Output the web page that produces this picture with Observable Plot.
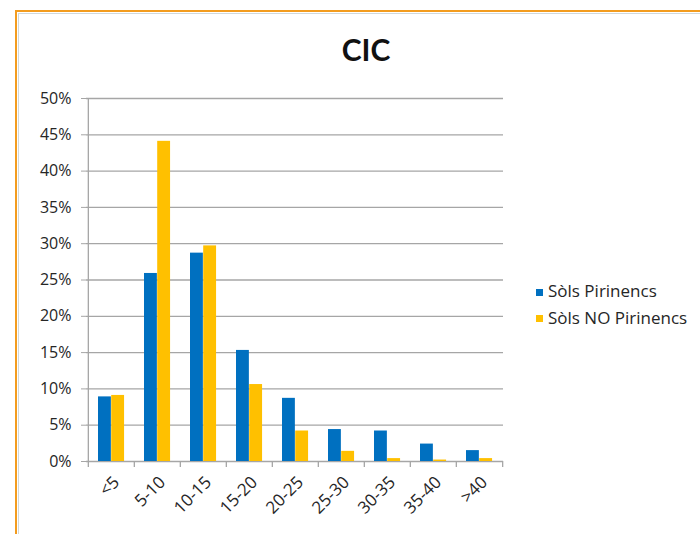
<!DOCTYPE html>
<html>
<head>
<meta charset="utf-8">
<script src="https://cdn.jsdelivr.net/npm/d3@7"></script>
<script src="https://cdn.jsdelivr.net/npm/@observablehq/plot@0.6"></script>
<style>
  html, body { margin: 0; padding: 0; background: #fff; }
  #wrap { position: relative; width: 700px; height: 534px; background: #fff; overflow: hidden; font-family: "Open Sans", Lato, sans-serif; color: #262626; }
  #frameO { position: absolute; left: 15px; top: 10px; width: 720px; height: 560px; border-top: 2px solid #f39c1f; border-left: 2px solid #f39c1f; }
  #frameI { position: absolute; left: 18px; top: 13px; width: 720px; height: 560px; border-top: 1px solid #cfd8dc; border-left: 1px solid #cfd8dc; }
  #title { position: absolute; left: 266px; width: 200px; top: 31px; text-align: center; font-family: Lato, sans-serif; font-weight: bold; font-size: 30px; color: #111; }
  #chart { position: absolute; left: 0; top: 80px; }
  .leg { position: absolute; font-size: 17px; line-height: 20px; color: #262626; white-space: nowrap; }
  .sw { position: absolute; width: 7px; height: 7px; }
</style>
</head>
<body>
<div id="wrap">
  <div id="frameO"></div>
  <div id="frameI"></div>
  <div id="title">CIC</div>
  <div id="chart"></div>
  <div id="legend"></div>
</div>
<script>
const categories = ["<5", "5-10", "10-15", "15-20", "20-25", "25-30", "30-35", "35-40", ">40"];
const seriesNames = ["Sòls Pirinencs", "Sòls NO Pirinencs"];
const seriesColors = ["#0070c0", "#ffc000"];
const pirinencs   = [8.9, 25.9, 28.7, 15.3, 8.7, 4.4, 4.2, 2.4, 1.5];
const noPirinencs = [9.1, 44.1, 29.7, 10.6, 4.2, 1.4, 0.4, 0.2, 0.4];
const yTicks = [0, 0.05, 0.10, 0.15, 0.20, 0.25, 0.30, 0.35, 0.40, 0.45, 0.50];

const rows = [];
categories.forEach((c, i) => {
  rows.push({cat: c, series: seriesNames[0], value: pirinencs[i] / 100});
  rows.push({cat: c, series: seriesNames[1], value: noPirinencs[i] / 100});
});

const W = 520, H = 454, ML = 86, MR = 17, MT = 18, MB = 73;
const step = (W - ML - MR) / categories.length;
const gridColor = "#a6a6a6";

const chart = Plot.plot({
  width: W, height: H,
  marginLeft: ML, marginRight: MR, marginTop: MT, marginBottom: MB,
  style: {fontFamily: "'Open Sans', Lato, sans-serif", fontSize: "16px", color: "#262626", background: "transparent"},
  x: {domain: categories, padding: 0, label: null},
  y: {domain: [0, 0.5], label: null},
  color: {domain: seriesNames, range: seriesColors},
  marks: [
    Plot.ruleY(yTicks, {y: d => d, stroke: gridColor, strokeWidth: 1.3}),
    Plot.ruleX([categories[0]], {x: d => d, y1: 0, y2: 0.5, dx: -step / 2, stroke: gridColor, strokeWidth: 1.3}),
    Plot.ruleX(categories, {x: d => d, y1: 0, y2: 0, insetBottom: -6, dx: -step / 2, stroke: gridColor, strokeWidth: 1.3}),
    Plot.ruleX([categories[categories.length - 1]], {x: d => d, y1: 0, y2: 0, insetBottom: -6, dx: step / 2, stroke: gridColor, strokeWidth: 1.3}),
    Plot.barY(rows.filter(d => d.series === seriesNames[0]), {x: "cat", y: "value", fill: "series", insetLeft: 10, insetRight: step - 10 - 13.2}),
    Plot.barY(rows.filter(d => d.series === seriesNames[1]), {x: "cat", y: "value", fill: "series", insetLeft: 10 + 13.2, insetRight: step - 10 - 26.4}),
    Plot.axisY({ticks: yTicks, tickSize: 5, tickPadding: 10, tickFormat: d3.format(".0%"), stroke: gridColor, fill: "#262626", fontSize: 16, label: null}),
    Plot.axisX({tickSize: 0, tickPadding: 18, dx: 5, tickRotate: -45, fill: "#262626", fontSize: 17, label: null})
  ]
});
document.getElementById("chart").appendChild(chart);

const legend = document.getElementById("legend");
const legTops = [281, 307.5];
seriesNames.forEach((name, i) => {
  const sw = document.createElement("div");
  sw.className = "sw";
  sw.style.left = "536px";
  sw.style.top = (legTops[i] + 7.5) + "px";
  sw.style.background = seriesColors[i];
  legend.appendChild(sw);
  const t = document.createElement("div");
  t.className = "leg";
  t.style.left = "548px";
  t.style.top = legTops[i] + "px";
  t.textContent = name;
  legend.appendChild(t);
});
</script>
</body>
</html>
